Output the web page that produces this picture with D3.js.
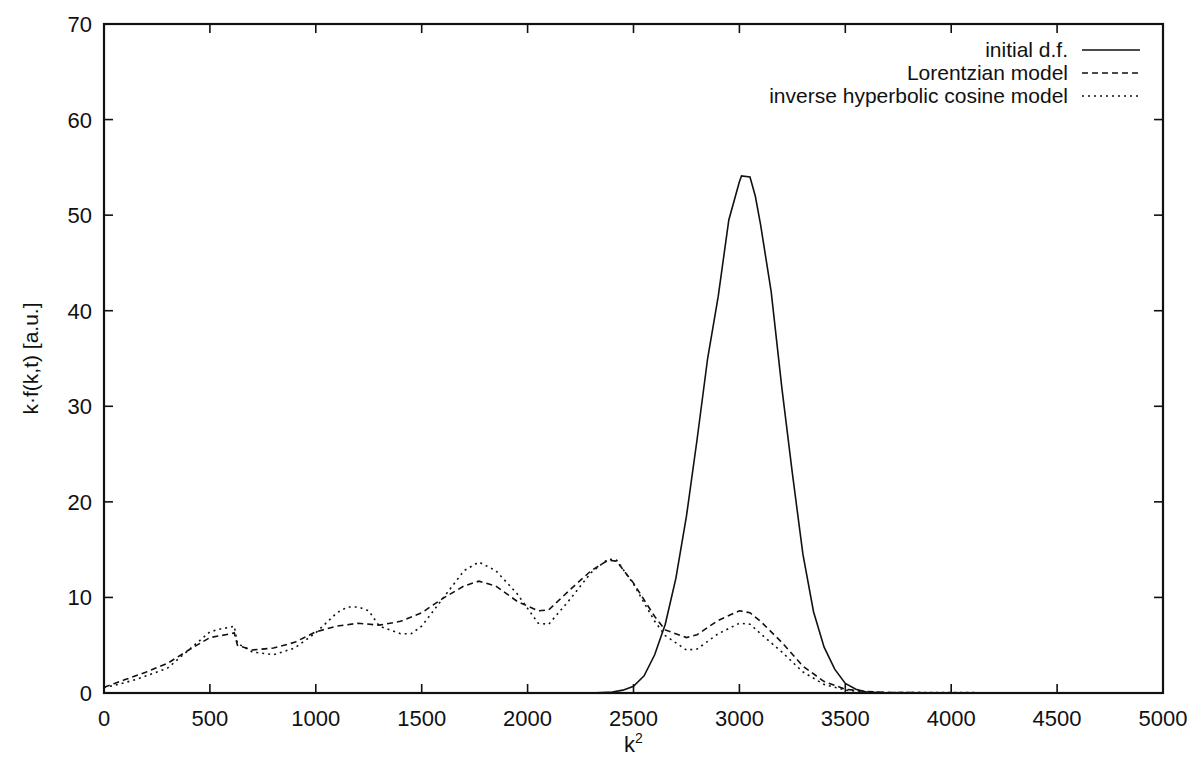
<!DOCTYPE html>
<html>
<head>
<meta charset="utf-8">
<script src="https://cdn.jsdelivr.net/npm/d3@7"></script>
<style>
  body { margin: 0; background: #fff; }
  text { font-family: "Liberation Sans", Arial, Helvetica, sans-serif; fill: #111; }
</style>
</head>
<body>
<div id="chart"></div>
<script>
"use strict";

// data: [k^2, k*f(k,t)]
var initialDf = [
  [0, 0], [2300, 0], [2400, 0.1], [2450, 0.3], [2500, 0.7], [2550, 1.8], [2600, 4.0],
  [2650, 7.2], [2700, 12], [2750, 18.5], [2800, 26.5], [2850, 35], [2900, 41.5],
  [2950, 49.5], [3000, 53.5], [3010, 54.1], [3050, 54.0], [3075, 52], [3100, 49],
  [3150, 42], [3200, 32], [3250, 23], [3300, 14.5], [3350, 8.5], [3400, 4.8],
  [3450, 2.5], [3500, 1.0], [3550, 0.4], [3600, 0.1], [3700, 0], [5000, 0]
];

var lorentzian = [
  [0, 0.6], [50, 1.0], [100, 1.4], [150, 1.8], [200, 2.2], [300, 3.1], [400, 4.5],
  [500, 5.8], [550, 6.0], [600, 6.2], [615, 6.3], [630, 5.0], [700, 4.5], [800, 4.7],
  [900, 5.3], [1000, 6.4], [1100, 7.0], [1200, 7.3], [1300, 7.1], [1400, 7.5],
  [1500, 8.4], [1600, 9.9], [1700, 11.2], [1770, 11.7], [1850, 11.2], [1950, 9.6],
  [2050, 8.6], [2100, 8.7], [2200, 10.8], [2300, 12.8], [2380, 13.9], [2420, 13.8],
  [2500, 11.5], [2600, 8.0], [2650, 6.6], [2750, 5.8], [2800, 6.1], [2900, 7.6],
  [3000, 8.6], [3050, 8.4], [3100, 7.5], [3200, 5.3], [3300, 2.8], [3400, 1.2],
  [3500, 0.4], [3600, 0.15], [3700, 0.05], [4000, 0.02], [5000, 0]
];

var invCosh = [
  [0, 0.6], [50, 0.8], [100, 1.1], [150, 1.4], [200, 1.8], [300, 2.6], [400, 4.5],
  [500, 6.4], [550, 6.7], [600, 6.9], [615, 7.0], [630, 5.2], [700, 4.3], [800, 4.0],
  [900, 4.7], [1000, 6.3], [1100, 8.4], [1150, 9.0], [1200, 9.0], [1250, 8.6],
  [1300, 7.0], [1400, 6.2], [1450, 6.2], [1500, 7.0], [1600, 9.9], [1700, 12.8],
  [1770, 13.7], [1850, 12.8], [1950, 10.4], [2050, 7.3], [2100, 7.2], [2200, 9.8],
  [2300, 12.6], [2380, 14.0], [2420, 13.9], [2500, 11.4], [2600, 7.5], [2650, 6.0],
  [2750, 4.5], [2800, 4.6], [2900, 6.2], [3000, 7.3], [3050, 7.2], [3100, 6.2],
  [3200, 4.3], [3300, 2.2], [3400, 0.9], [3500, 0.3], [3600, 0.1], [3700, 0.05], [5000, 0]
];

var xTicks = d3.range(0, 5001, 500);
var yTicks = d3.range(0, 71, 10);

var seriesNames = ["initial d.f.", "Lorentzian model", "inverse hyperbolic cosine model"];
var seriesData = [initialDf, lorentzian, invCosh];
var seriesDash = [null, "6,4", "2,4"];

// layout
var width = 1189, height = 762;
var plotLeft = 104, plotRight = 1163, plotTop = 24, plotBottom = 693;

var svg = d3.select("#chart").append("svg")
  .attr("width", width)
  .attr("height", height);

var x = d3.scaleLinear().domain([0, 5000]).range([plotLeft, plotRight]);
var y = d3.scaleLinear().domain([0, 70]).range([plotBottom, plotTop]);

// ticks on all four sides, pointing inward (gnuplot style)
var tickLen = 9;
var axes = svg.append("g").attr("stroke", "#111").attr("stroke-width", 1.6);
xTicks.forEach(function(t) {
  axes.append("line").attr("x1", x(t)).attr("x2", x(t)).attr("y1", plotBottom).attr("y2", plotBottom - tickLen);
  axes.append("line").attr("x1", x(t)).attr("x2", x(t)).attr("y1", plotTop).attr("y2", plotTop + tickLen);
});
yTicks.forEach(function(t) {
  axes.append("line").attr("x1", plotLeft).attr("x2", plotLeft + tickLen).attr("y1", y(t)).attr("y2", y(t));
  axes.append("line").attr("x1", plotRight).attr("x2", plotRight - tickLen).attr("y1", y(t)).attr("y2", y(t));
});

// tick labels
svg.append("g").selectAll("text")
  .data(xTicks)
  .enter()
  .append("text")
    .attr("x", function(t) { return x(t); })
    .attr("y", plotBottom + 33)
    .attr("text-anchor", "middle")
    .attr("font-size", 22)
    .text(function(t) { return t; });

svg.append("g").selectAll("text")
  .data(yTicks)
  .enter()
  .append("text")
    .attr("x", plotLeft - 12)
    .attr("y", function(t) { return y(t) + 8; })
    .attr("text-anchor", "end")
    .attr("font-size", 22)
    .text(function(t) { return t; });

// axis titles
var xLabel = svg.append("text")
  .attr("x", (plotLeft + plotRight) / 2)
  .attr("y", 752)
  .attr("text-anchor", "middle")
  .attr("font-size", 22)
  .text("k");
xLabel.append("tspan").attr("dy", -9).attr("font-size", 14).text("2");

svg.append("text")
  .attr("transform", "translate(38," + ((plotTop + plotBottom) / 2) + ") rotate(-90)")
  .attr("text-anchor", "middle")
  .attr("font-size", 21)
  .text("k\u00b7f(k,t) [a.u.]");

// curves
svg.append("clipPath").attr("id", "plotClip")
  .append("rect").attr("x", plotLeft).attr("y", plotTop)
  .attr("width", plotRight - plotLeft).attr("height", plotBottom - plotTop);

var line = d3.line()
  .x(function(d) { return x(d[0]); })
  .y(function(d) { return y(d[1]); });

svg.append("g").attr("clip-path", "url(#plotClip)")
  .selectAll("path")
  .data(seriesData)
  .enter()
  .append("path")
    .attr("d", line)
    .attr("fill", "none")
    .attr("stroke", "#111")
    .attr("stroke-width", 1.6)
    .attr("stroke-dasharray", function(d, i) { return seriesDash[i]; });

// legend
var legend = svg.append("g");
seriesNames.forEach(function(name, i) {
  var ly = 50 + i * 23;
  legend.append("text")
    .attr("x", 1068)
    .attr("y", ly + 7)
    .attr("text-anchor", "end")
    .attr("font-size", 21)
    .text(name);
  legend.append("line")
    .attr("x1", 1082).attr("x2", 1140)
    .attr("y1", ly).attr("y2", ly)
    .attr("stroke", "#111")
    .attr("stroke-width", 1.6)
    .attr("stroke-dasharray", seriesDash[i]);
});

// frame
svg.append("rect")
  .attr("x", plotLeft).attr("y", plotTop)
  .attr("width", plotRight - plotLeft).attr("height", plotBottom - plotTop)
  .attr("fill", "none")
  .attr("stroke", "#111")
  .attr("stroke-width", 2.2);
</script>
</body>
</html>
